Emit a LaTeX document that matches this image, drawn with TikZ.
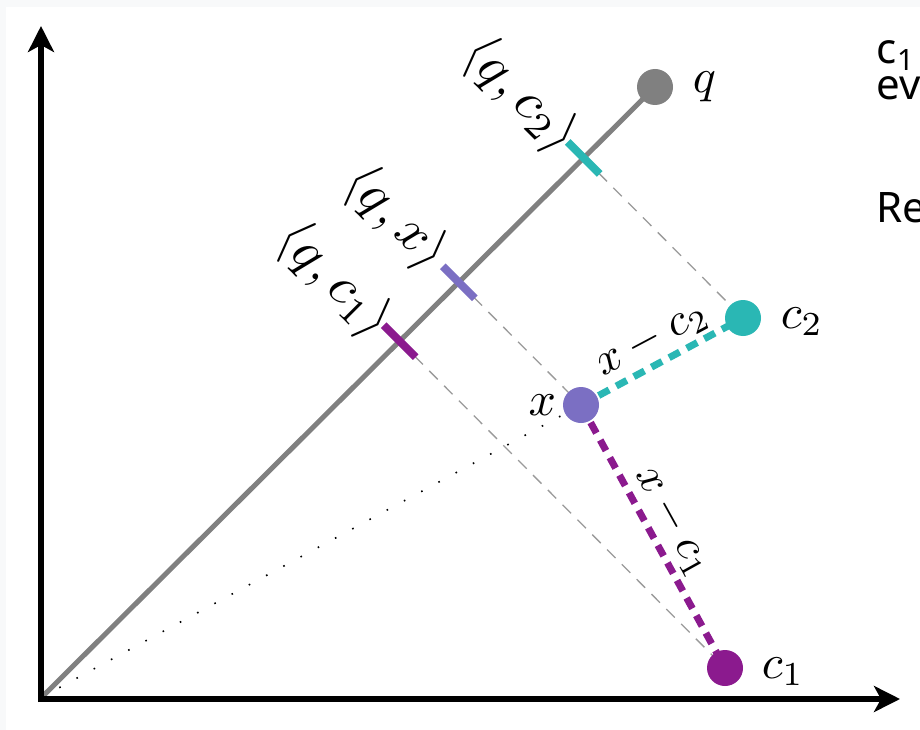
\documentclass[tikz,border=0pt]{standalone}
\usepackage{fontspec}
\newfontfamily\sidefont{Noto Sans}
\usetikzlibrary{arrows.meta,calc}
\definecolor{bgray}{HTML}{F8F9FA}
\definecolor{lineg}{HTML}{808080}
\definecolor{tealc}{HTML}{2AB7B4}
\definecolor{xcol}{HTML}{7B6FC3}
\definecolor{purc}{HTML}{8B1A8E}
\definecolor{dashg}{HTML}{9A9A9A}
\begin{document}
\begin{tikzpicture}[x=1pt,y=-1pt,
  dotpt/.style={circle,fill=#1,minimum size=36pt,inner sep=0pt},
  mlabel/.style={scale=4.8,inner sep=0pt},
  dlabel/.style={scale=4.5,inner sep=0pt},
  plabel/.style={scale=5.4,inner sep=0pt,rotate=-45},
  axisline/.style={line width=6pt,-{Stealth[length=26pt,width=26pt,inset=7pt]}},
  projline/.style={dashg,line width=1.3pt,dash pattern=on 12pt off 9pt},
  diffline/.style={line width=7pt,dash pattern=on 12pt off 8pt},
  tickmark/.style={line width=8pt},
  sidetext/.style={font=\sidefont,scale=4.2,inner sep=0pt,anchor=base west}]
\useasboundingbox (0,0) rectangle (920,730);
\clip (0,0) rectangle (920,730);
\fill[bgray] (0,0) rectangle (920,730);
\fill[white] (6,7) rectangle (920,730);

% key positions
\coordinate (O) at (42,697);
\coordinate (ytip) at (41,26);
\coordinate (ybase) at (41,702);
\coordinate (xbase) at (38,699);
\coordinate (xtip) at (900,699);
\coordinate (qc) at (655,87);
\coordinate (c2c) at (743,318);
\coordinate (xc) at (581,405);
\coordinate (c1c) at (725,668);

% projections on the q line
\coordinate (p2) at ($(O)!(c2c)!(qc)$);
\coordinate (px) at ($(O)!(xc)!(qc)$);
\coordinate (p1) at ($(O)!(c1c)!(qc)$);

% dotted line origin to x
\draw[line width=1.6pt,dash pattern=on 1.6pt off 18pt] (O) -- (xc);

% projection lines
\draw[projline] (p2) -- (c2c);
\draw[projline] (px) -- (xc);
\draw[projline] (p1) -- (c1c);

% main q line
\draw[lineg,line width=5pt] (O) -- (qc);

% axes
\draw[axisline] (ybase) -- (ytip);
\draw[axisline] (xbase) -- (xtip);

% ticks
\draw[tickmark,tealc] ($(p2)+(-16,-16)$) -- ($(p2)+(16,16)$);
\draw[tickmark,xcol] ($(px)+(-16,-16)$) -- ($(px)+(16,16)$);
\draw[tickmark,purc] ($(p1)+(-16,-16)$) -- ($(p1)+(16,16)$);

% difference lines
\draw[diffline,tealc] (xc) -- (c2c);
\draw[diffline,purc] (xc) -- (c1c);
\node[dlabel,rotate=28] (d2) at (652,340) {$x-c_2$};
\node[dlabel,rotate=-61] (d1) at (673,522) {$x-c_1$};

% points
\node[dotpt=lineg] (q) at (qc) {};
\node[dotpt=tealc] (c2) at (c2c) {};
\node[dotpt=xcol] (x) at (xc) {};
\node[dotpt=purc] (c1) at (c1c) {};

% point labels
\node[mlabel,anchor=base west] (ql) at (692,93) {$q$};
\node[mlabel,anchor=base west] (c2l) at (780,328) {$c_2$};
\node[mlabel,anchor=base east] (xl) at (557,415) {$x$};
\node[mlabel,anchor=base west] (c1l) at (761,678) {$c_1$};

% inner product labels
\node[plabel] (lc2) at (520,95) {$\langle q, c_2\rangle$};
\node[plabel] (lx) at (395,218) {$\langle q, x\rangle$};
\node[plabel] (lc1) at (334,280) {$\langle q, c_1\rangle$};

% side text (cut off at the right edge)
\node[sidetext] (s1) at (876,64) {c\textsubscript{1}};
\node[sidetext] (s2) at (876,100) {ev};
\node[sidetext] (s3) at (876,222) {Re};
\end{tikzpicture}
\end{document}
